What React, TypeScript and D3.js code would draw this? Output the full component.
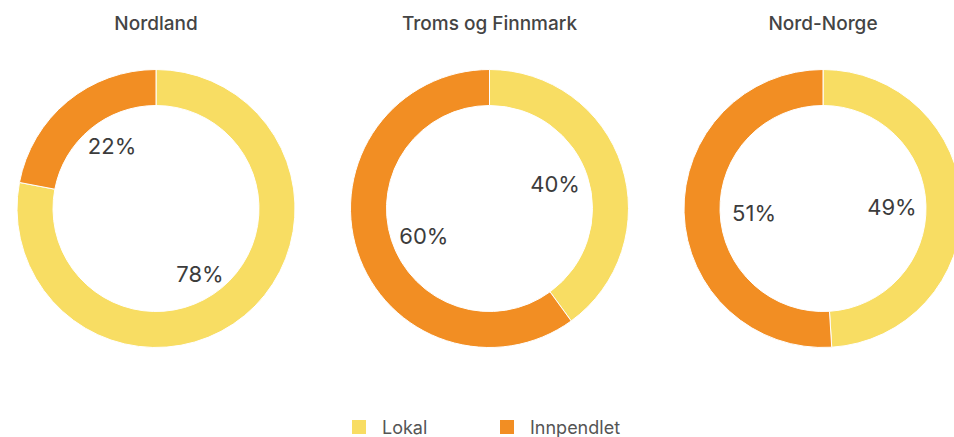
import React, { useEffect, useRef } from "react";
import * as d3 from "d3";

// data
const regions = ["Nordland", "Troms og Finnmark", "Nord-Norge"];
const categories = ["Lokal", "Innpendlet"];
const lokalShare = [78, 40, 49];
const innpendletShare = [22, 60, 51];

const colors = ["#F8DD63", "#F28E23"];

export default function App() {
    const ref = useRef<SVGSVGElement | null>(null);

    useEffect(() => {
        const width = 954;
        const height = 437;
        const outerR = 139;
        const innerR = 103;
        const cy = 208.5;
        const font = "Inter, 'Noto Sans', sans-serif";

        const svg = d3.select(ref.current);
        svg.selectAll("*").remove();
        svg.attr("width", width).attr("height", height);

        const x = d3.scalePoint<string>()
            .domain(regions)
            .range([156, 823]);

        const color = d3.scaleOrdinal<string, string>()
            .domain(categories)
            .range(colors);

        const pie = d3.pie<{ cat: string; value: number }>()
            .sort(null)
            .value(d => d.value);

        const arc = d3.arc<d3.PieArcDatum<{ cat: string; value: number }>>()
            .innerRadius(innerR)
            .outerRadius(outerR);

        // labels sit on a slightly squashed ellipse inside the hole
        const labelPos = (d: d3.PieArcDatum<{ cat: string; value: number }>) => {
            const a = (d.startAngle + d.endAngle) / 2;
            return [69 * Math.sin(a), -83 * Math.cos(a) + 1.5];
        };

        // ==========================
        // DONUTS
        // ==========================
        regions.forEach((region, i) => {
            const values = [
                { cat: categories[0], value: lokalShare[i] },
                { cat: categories[1], value: innpendletShare[i] }
            ];
            const g = svg.append("g")
                .attr("transform", `translate(${x(region)}, ${cy})`);

            const arcs = pie(values);

            g.selectAll("path")
                .data(arcs)
                .enter()
                .append("path")
                .attr("d", arc)
                .attr("fill", d => color(d.data.cat))
                .attr("stroke", "#fff")
                .attr("stroke-width", 1);

            g.selectAll(".lbl")
                .data(arcs)
                .enter()
                .append("text")
                .attr("x", d => labelPos(d)[0])
                .attr("y", d => labelPos(d)[1])
                .attr("text-anchor", "middle")
                .attr("dominant-baseline", "central")
                .attr("font-family", font)
                .attr("font-size", "22px")
                .attr("fill", "#3c3c3c")
                .text(d => `${d.data.value}%`);

            // title
            svg.append("text")
                .attr("x", x(region)!)
                .attr("y", 30)
                .attr("text-anchor", "middle")
                .attr("font-family", font)
                .attr("font-size", "19px")
                .attr("font-weight", 500)
                .attr("fill", "#444")
                .text(region);
        });

        // ==========================
        // LEGEND
        // ==========================
        const legendX = d3.scalePoint<string>()
            .domain(categories)
            .range([352, 500]);

        const legend = svg.selectAll(".legend")
            .data(categories)
            .enter()
            .append("g")
            .attr("transform", d => `translate(${legendX(d)}, 420)`);

        legend.append("rect")
            .attr("width", 14)
            .attr("height", 14)
            .attr("fill", d => color(d));

        legend.append("text")
            .attr("x", 30)
            .attr("y", 14)
            .attr("font-family", font)
            .attr("font-size", "18px")
            .attr("fill", "#555")
            .text(d => d);
    }, []);

    return (
        <svg ref={ref} style={{ position: "absolute", left: 0, top: 0 }} />
    );
}
